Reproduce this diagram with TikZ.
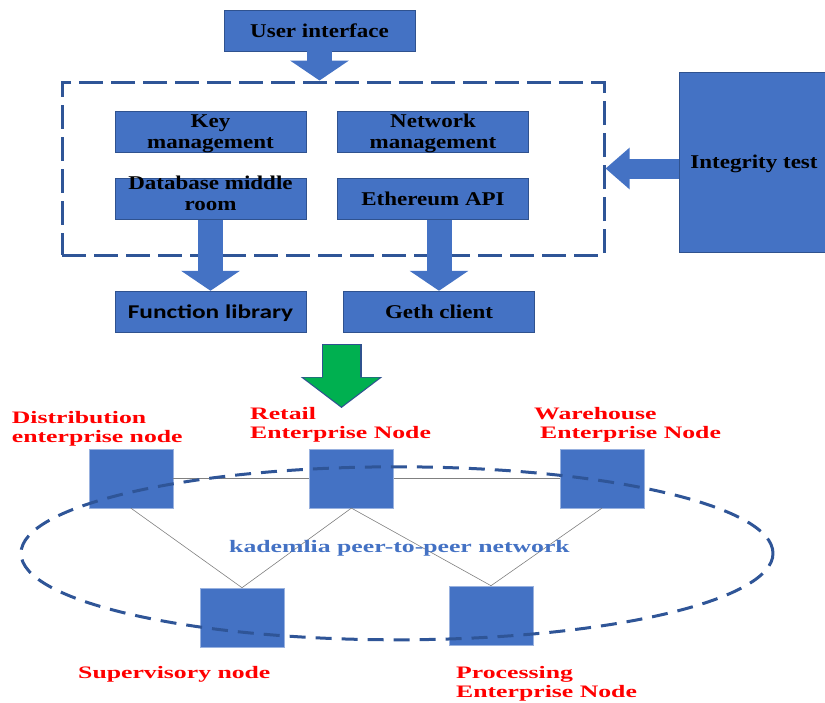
\documentclass[tikz,border=0pt]{standalone}
\usepackage{fontspec}
\usepackage{xcolor}
\usepackage{tikz}
\usetikzlibrary{positioning, calc, arrows.meta, shapes.geometric}
\setmainfont{Liberation Serif}
\newfontfamily\boxfont{Liberation Serif Bold}[FakeStretch=1.18]
\newfontfamily\libfont{Carlito Bold}[FakeStretch=1.3]
\newfontfamily\labelfont{Liberation Serif Bold}[FakeStretch=1.47]
\definecolor{boxblue}{HTML}{4472C4}
\definecolor{edgeblue}{HTML}{2F528F}
\definecolor{dashblue}{HTML}{2F5597}
\definecolor{arrowgreen}{HTML}{00B050}

\begin{document}
\begin{tikzpicture}[x=1pt, y=-1pt,
                        blockbox/.style={rectangle, fill=boxblue, draw=edgeblue, line width=0.5pt, minimum width=191pt, minimum height=41pt, inner sep=0pt, text depth=0.5pt, align=center, font=\boxfont\fontsize{19.5}{21}\selectfont},
                        peernode/.style={rectangle, fill=boxblue, draw=boxblue!55!white, line width=0.6pt, minimum width=84pt, minimum height=59pt},
                        redlabel/.style={anchor=base west, inner sep=0pt, align=left, text=red, font=\labelfont\fontsize{17.5}{19}\selectfont},
                        frame/.style={rectangle, draw=dashblue, line width=3pt, dash pattern=on 24pt off 8pt, minimum width=542pt, minimum height=173pt, inner sep=0pt},
                        ring/.style={ellipse, draw=dashblue, line width=3pt, dash pattern=on 16pt off 10pt, minimum width=752pt, minimum height=173pt, inner sep=0pt},
                        fatarrow/.style={boxblue, line width=25pt, -{Triangle[length=20pt, width=58pt]}},
                        peerline/.style={gray, line width=0.6pt},
                        ]
        \useasboundingbox (0,0) rectangle (825,702);

        %Nodes
        \node[blockbox]        (ui)       at (319.5,30.5)          {User interface};
        \node[blockbox]        (key)      at (210.5,131.5)         {Key\\management};
        \node[blockbox]        (net)      [right=31pt of key]      {Network\\management};
        \node[blockbox, text height=23pt] (db) [below=26pt of key] {Database middle\\room};
        \node[blockbox]        (eth)      [below=26pt of net]      {Ethereum API};
        \node[blockbox, font=\libfont\fontsize{19.5}{21}\selectfont] (func) [below=71pt of db] {Function library};
        \node[blockbox]        (geth)     [below=71pt of eth, xshift=6pt] {Geth client};
        \node[blockbox, minimum width=150pt, minimum height=180pt] (check) at (754,162) {Integrity test};
        \node[frame]           (frame)    at (333,168.5)           {};

        \coordinate (gtop) at (341.5,344);
        \coordinate (gtip) at (341.5,408);

        \node[peernode]        (dist)     at (130.8,478.3)         {};
        \node[peernode]        (retail)   [right=136pt of dist]    {};
        \node[peernode]        (ware)     [right=166pt of retail]  {};
        \node[peernode]        (sup)      at (242,617.5)           {};
        \node[peernode]        (proc)     at (491,615.5)           {};

        %Lines
        \draw[fatarrow] (ui.south) -- (ui.south |- frame.north);
        \draw[fatarrow] (db.south) -- (db.south |- func.north);
        \draw[fatarrow] (eth.south -| geth.north) -- (geth.north);
        \draw[fatarrow, line width=20pt, -{Triangle[length=24pt, width=40pt]}] (frame.east -| check.west) -- (frame.east);

        \draw[edgeblue, line width=40pt, -{Triangle[length=31pt, width=80pt]}] (gtop) -- (gtip);
        \draw[arrowgreen, line width=37pt, shorten <=1.3pt, -{Triangle[length=29pt, width=75pt]}] (gtop) -- ($(gtip)+(0,-1.5)$);

        \draw[peerline] (dist.east)    -- (retail.west);
        \draw[peerline] (retail.east)  -- (ware.west);
        \draw[peerline] (dist.south)   -- (sup.north);
        \draw[peerline] (retail.south) -- (sup.north);
        \draw[peerline] (retail.south) -- (proc.north);
        \draw[peerline] (ware.south)   -- (proc.north);

        \node[ring]            (p2p)      at (397,553.3)           {};
        \node[anchor=base, inner sep=0pt, text=boxblue, font=\labelfont\fontsize{17.5}{19}\selectfont] (p2plabel) at (399.5,552) {kademlia peer-to-peer network};

        %Labels
        \node[redlabel]        (distlabel)    at (11.7,442)        {Distribution\\enterprise node};
        \node[redlabel]        (retaillabel)  at (250,438)         {Retail\\Enterprise Node};
        \node[redlabel]        (warelabel)    at (534,438)         {Warehouse\\\hspace*{6pt}Enterprise Node};
        \node[redlabel]        (suplabel)     at (78,678)          {Supervisory node};
        \node[redlabel]        (proclabel)    at (456,697)         {Processing\\Enterprise Node};
    \end{tikzpicture}
\end{document}
